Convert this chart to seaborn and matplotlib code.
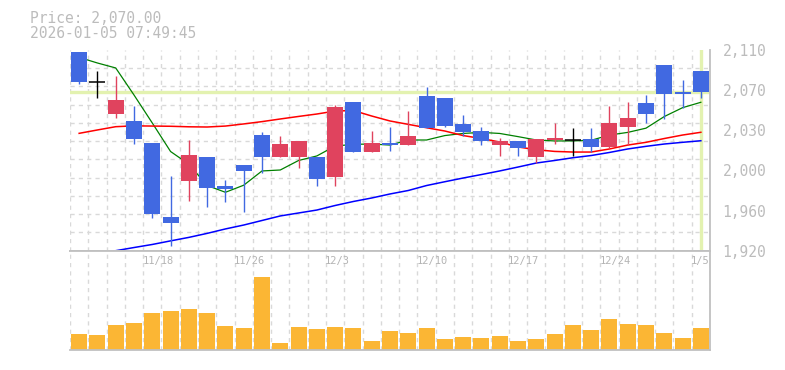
import numpy as np
import matplotlib
matplotlib.use("Agg")
import matplotlib.pyplot as plt
import matplotlib.transforms as mtransforms
import seaborn as sns

# daily candles, 2025-11-12 .. 2026-01-05
dates = ["11/12", "11/13", "11/14", "11/17", "11/18", "11/19", "11/20", "11/21", "11/25", "11/26",
         "11/27", "11/28", "12/1", "12/2", "12/3", "12/4", "12/5", "12/8", "12/9", "12/10",
         "12/11", "12/12", "12/15", "12/16", "12/17", "12/18", "12/19", "12/22", "12/23", "12/24",
         "12/25", "12/26", "12/29", "12/30", "1/5"]
opens = [2108, 2080, 2049, 2043, 2022, 1952, 1986, 2009, 1981, 2001,
         2030, 2009, 2009, 2009, 1990, 2061, 2013, 2022, 2020, 2066,
         2065, 2040, 2033, 2020, 2024, 2009, 2025, 2025, 2026, 2018,
         2037, 2060, 2096, 2070, 2090]
highs = [2108, 2090, 2085, 2057, 2022, 1991, 2025, 2009, 1987, 2001,
         2032, 2029, 2024, 2009, 2058, 2061, 2033, 2037, 2052, 2075,
         2065, 2048, 2037, 2027, 2024, 2026, 2041, 2036, 2036, 2057,
         2061, 2067, 2096, 2082, 2090]
lows = [2078, 2065, 2046, 2021, 1951, 1924, 1967, 1961, 1966, 1957,
        1994, 2009, 1998, 1981, 1981, 2013, 2013, 2014, 2020, 2036,
        2037, 2029, 2020, 2010, 2010, 2003, 2021, 2010, 2013, 2017,
        2020, 2041, 2045, 2055, 2065]
closes = [2080, 2080, 2063, 2026, 1955, 1946, 2011, 1979, 1978, 1995,
          2009, 2021, 2024, 1988, 2056, 2013, 2022, 2020, 2029, 2036,
          2038, 2032, 2024, 2024, 2017, 2026, 2027, 2025, 2018, 2041,
          2046, 2049, 2068, 2068, 2070]

# moving averages (short / mid / long)
ma_short = [2103, 2097.7, 2093, 2067.4, 2040.9, 2013.9, 2001.9, 1981.7, 1975.3, 1982,
            1995.5, 1996.4, 2005.4, 2009.7, 2019.1, 2020.7, 2021, 2020, 2024.8, 2024.8,
            2029, 2031, 2032, 2031, 2028, 2024.8, 2023.9, 2023.9, 2024.5, 2029.5,
            2032, 2036, 2047, 2055.4, 2060.5]
ma_mid = [2031.1, 2034.3, 2037.4, 2038.2, 2038, 2037.8, 2037.3, 2037.1, 2038, 2040,
          2042.2, 2044.7, 2047.1, 2049.4, 2052.2, 2052.7, 2047.5, 2042.8, 2039.6, 2036.4,
          2033.3, 2029, 2026.2, 2022.9, 2018.2, 2015.6, 2014, 2013.4, 2013.4, 2016.3,
          2020, 2022.6, 2026.2, 2029.5, 2032.1]
ma_long = [1914, 1917, 1920, 1923, 1925.9, 1929.3, 1932.6, 1936.4, 1940.6, 1944.3,
           1948.6, 1952.9, 1955.7, 1958.5, 1962.8, 1966.6, 1969.9, 1973.7, 1977, 1981.7,
           1985.3, 1988.8, 1992.1, 1995.5, 1999.2, 2003, 2005.4, 2008, 2010.1, 2013,
           2016.3, 2018.8, 2021, 2022.6, 2024.1]

volume = [150, 140, 240, 260, 360, 380, 400, 360, 230, 210,
          710, 60, 220, 200, 220, 210, 80, 180, 160, 210,
          100, 120, 110, 130, 80, 100, 150, 240, 190, 300,
          250, 240, 160, 110, 210]

tick_dates = ["11/18", "11/26", "12/3", "12/10", "12/17", "12/24", "1/5"]
price_ticks = [1920, 1958, 1996, 2034, 2072, 2110]
last_price = 2070.00
timestamp = "2026-01-05 07:49:45"

UP = "#e0435e"
DOWN = "#4169e1"
GRID = "#d9d9d9"
FRAME = "#c0c0c0"
TXT = "#bcbcbc"
MONO = "DejaVu Sans Mono"

o = np.array(opens, float)
h = np.array(highs, float)
l = np.array(lows, float)
c = np.array(closes, float)
n = len(o)
idx = np.arange(n)

fig = plt.figure(figsize=(7.85, 3.7), dpi=100)
ax = fig.add_axes([70 / 785, 1 - 250.7 / 370, 640 / 785, 200.7 / 370])
axv = fig.add_axes([70 / 785, 1 - 349.5 / 370, 640 / 785, 98.8 / 370])

# current price markers
ax.axhline(last_price, color="#e3f2b0", lw=2.4, zorder=1)
ax.axvline(idx[-1], color="#e3f2b0", lw=2.4, zorder=1)

# moving averages
sns.lineplot(x=idx, y=ma_short, ax=ax, color="#008000", lw=0.9, zorder=2)
sns.lineplot(x=idx, y=ma_mid, ax=ax, color="#ff0000", lw=1.1, zorder=2)
sns.lineplot(x=idx, y=ma_long, ax=ax, color="#0000ff", lw=1.1, zorder=2)

# candles
cols = np.where(c > o, UP, np.where(c < o, DOWN, "black"))
ax.vlines(idx, l, h, colors=cols, lw=1.0, zorder=3)
ax.bar(idx, np.abs(c - o), bottom=np.minimum(o, c), width=0.87, color=cols, lw=0, zorder=4)
doji = c == o
ax.hlines(c[doji], idx[doji] - 0.435, idx[doji] + 0.435, color="black", lw=1.1, zorder=4)

ax.set_xlim(-0.5, n - 0.5)
ax.set_ylim(1920, 2110)
ax.set_xticks([])
ax.set_xticks(np.arange(-0.5, n, 1), minor=True)
ax.set_yticks(np.linspace(1920, 2110, 12), minor=True)
ax.yaxis.tick_right()
ax.set_yticks(price_ticks)
ax.set_yticklabels([f"{round(v, -1):,.0f}" for v in price_ticks], family=MONO)
ax.tick_params(axis="y", which="both", length=0, pad=9, labelsize=10.5, labelcolor=TXT)
ax.tick_params(axis="x", which="both", length=0)
ax.grid(False, which="major")
ax.grid(True, which="minor", color=GRID, ls=(0, (3, 3)), lw=1)
ax.set_axisbelow(True)
ax.set_xlabel("")
ax.set_ylabel("")
for s in ["left", "top"]:
    ax.spines[s].set_visible(False)
for s in ["bottom", "right"]:
    ax.spines[s].set_color(FRAME)
    ax.spines[s].set_linewidth(1.3)

# volume
sns.barplot(x=idx, y=volume, ax=axv, color="#fbb634", saturation=1, width=0.87, linewidth=0)
axv.set_xlim(-0.5, n - 0.5)
axv.set_ylim(0, max(volume) * 1.37)
axv.set_yticks([])
axv.set_xticks([])
axv.set_xticks(np.arange(-0.5, n, 1), minor=True)
axv.tick_params(which="both", length=0)
axv.grid(True, which="minor", axis="x", color=GRID, ls=(0, (3, 3)), lw=1)
axv.set_axisbelow(True)
axv.set_xlabel("")
axv.set_ylabel("")
axv.spines["left"].set_visible(False)
for s in ["bottom", "right", "top"]:
    axv.spines[s].set_color(FRAME)
    axv.spines[s].set_linewidth(1.3)

trans = mtransforms.blended_transform_factory(axv.transData, axv.transAxes)
for d in tick_dates:
    i = dates.index(d)
    axv.text(i - 0.55, 0.95, d, transform=trans, ha="left", va="top",
             fontsize=7.5, color="#b4b4b4", family=MONO)

fig.text(30 / 785, 1 - 23 / 370, f"Price: {last_price:,.2f}", fontsize=10.5,
         color=TXT, family=MONO, va="baseline")
fig.text(30 / 785, 1 - 38 / 370, timestamp, fontsize=10.5,
         color=TXT, family=MONO, va="baseline")

fig.savefig("out.png", dpi=100)
